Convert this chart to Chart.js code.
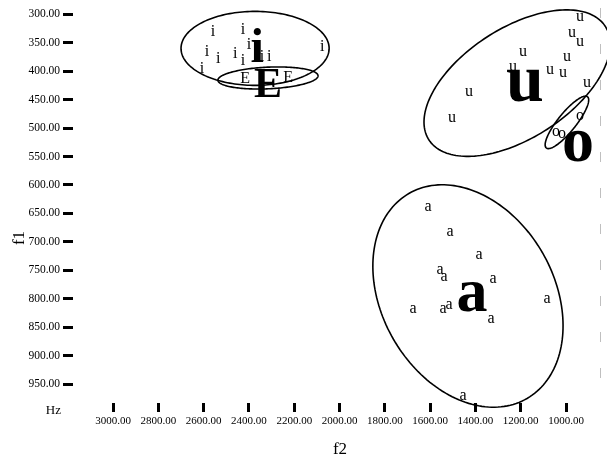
<!DOCTYPE html>
<html>
<head>
<meta charset="utf-8">
<script src="https://cdn.jsdelivr.net/npm/chart.js@4.4.1/dist/chart.umd.min.js"></script>
<style>
  html, body { margin: 0; padding: 0; background: #fff; }
  #wrap { width: 607px; height: 464px; }
</style>
</head>
<body>
<div id="wrap"><canvas id="c" width="607" height="464"></canvas></div>
<script>
// Vowel tokens: second formant (f2) and first formant (f1), in Hz
const iF2 = [2559, 2426, 2585, 2536, 2461, 2426, 2400, 2342, 2311, 2077, 2607];
const iF1 = [328, 325, 363, 376, 367, 379, 351, 372, 372, 355, 393];
const eF2 = [2417, 2227];
const eF1 = [412, 409];
const uF2 = [938, 974, 938, 1190, 996, 1234, 1071, 1013, 907, 1428, 1503];
const uF1 = [305, 333, 349, 367, 376, 393, 398, 404, 420, 437, 483];
const oF2 = [938, 1044, 1018];
const oF1 = [478, 507, 511];
const aF2 = [1609, 1512, 1384, 1556, 1539, 1322, 1675, 1543, 1517, 1331, 1084, 1455];
const aF1 = [639, 683, 723, 750, 762, 766, 817, 817, 811, 836, 801, 971];

// Vowel categories and the position of each large symbol
const vowelLabels = ['i', 'E', 'u', 'o', 'a'];
const meanF2 = [2364, 2316, 1181, 947, 1415];
const meanF1 = [354, 420, 425, 532, 796];

// Dispersion ellipses: centre plus two semi-axis vectors (Hz)
const ellCenterF2 = [2373, 2316, 1216, 996, 1433];
const ellCenterF1 = [360, 412, 421, 490, 795];
const ellAxisAF2 = [-327, -221, -389, -91, -261];
const ellAxisAF1 = [0, -4, -100, -45, 180];
const ellAxisBF2 = [0, -2, -133, -31, 329];
const ellAxisBF1 = [65, 19, 81, 10, 76];

// Axis ticks
const f2Ticks = [3000, 2800, 2600, 2400, 2200, 2000, 1800, 1600, 1400, 1200, 1000];
const f1Ticks = [300, 350, 400, 450, 500, 550, 600, 650, 700, 750, 800, 850, 900, 950];

// ---- styling ----
const SERIF = '"Liberation Serif", "DejaVu Serif", serif';
const tokenFontSize = 16;
const meanFontSizes = { i: 48, E: 42, u: 68, o: 64, a: 62 };

const toPoints = (xs, ys) => xs.map((x, k) => ({ x, y: ys[k] }));

const tokenSets = [
  { label: 'i', f2: iF2, f1: iF1 },
  { label: 'E', f2: eF2, f1: eF1 },
  { label: 'u', f2: uF2, f1: uF1 },
  { label: 'o', f2: oF2, f1: oF1 },
  { label: 'a', f2: aF2, f1: aF1 }
];

const datasets = tokenSets.map(s => ({
  label: s.label,
  data: toPoints(s.f2, s.f1),
  letters: s.f2.map(() => s.label),
  sizes: s.f2.map(() => tokenFontSize),
  bold: false,
  pointRadius: 0,
  pointHoverRadius: 0
}));
datasets.push({
  label: 'means',
  data: toPoints(meanF2, meanF1),
  letters: vowelLabels,
  sizes: vowelLabels.map(v => meanFontSizes[v]),
  bold: true,
  pointRadius: 0,
  pointHoverRadius: 0
});

// Draws each point as its vowel letter, centred on the glyph
const letterPlugin = {
  id: 'letters',
  afterDatasetsDraw(chart) {
    const ctx = chart.ctx;
    ctx.save();
    ctx.fillStyle = '#000';
    ctx.textAlign = 'center';
    ctx.textBaseline = 'alphabetic';
    chart.data.datasets.forEach((ds, di) => {
      const meta = chart.getDatasetMeta(di);
      meta.data.forEach((el, k) => {
        const txt = ds.letters[k];
        ctx.font = (ds.bold ? 'bold ' : '') + ds.sizes[k] + 'px ' + SERIF;
        const m = ctx.measureText(txt);
        const dy = (m.actualBoundingBoxAscent - m.actualBoundingBoxDescent) / 2;
        ctx.fillText(txt, el.x, el.y + dy);
      });
    });
    ctx.restore();
  }
};

// Dispersion ellipses, mapped through the chart scales
const ellipsePlugin = {
  id: 'ellipses',
  beforeDatasetsDraw(chart) {
    const { ctx, scales: { x, y } } = chart;
    ctx.save();
    ctx.strokeStyle = '#000';
    ctx.lineWidth = 1.6;
    ellCenterF2.forEach((c2, k) => {
      const c1 = ellCenterF1[k];
      const cx = x.getPixelForValue(c2), cy = y.getPixelForValue(c1);
      const ax = x.getPixelForValue(c2 + ellAxisAF2[k]) - cx;
      const ay = y.getPixelForValue(c1 + ellAxisAF1[k]) - cy;
      const bx = x.getPixelForValue(c2 + ellAxisBF2[k]) - cx;
      const by = y.getPixelForValue(c1 + ellAxisBF1[k]) - cy;
      ctx.beginPath();
      const n = 180;
      for (let s = 0; s <= n; s++) {
        const t = s / n * Math.PI * 2;
        const px = cx + ax * Math.cos(t) + bx * Math.sin(t);
        const py = cy + ay * Math.cos(t) + by * Math.sin(t);
        if (s === 0) ctx.moveTo(px, py); else ctx.lineTo(px, py);
      }
      ctx.closePath();
      ctx.stroke();
    });
    ctx.restore();
  }
};

// Axis captions: rotated f1, the Hz unit and the faint right frame
const captionPlugin = {
  id: 'captions',
  afterDraw(chart) {
    const { ctx, chartArea, scales: { x, y } } = chart;
    ctx.save();
    ctx.fillStyle = '#000';
    ctx.font = '13px ' + SERIF;
    ctx.textAlign = 'right';
    ctx.textBaseline = 'middle';
    ctx.fillText('Hz', 61, y.getPixelForValue(1000) - 2);

    ctx.translate(20, 238);
    ctx.rotate(-Math.PI / 2);
    ctx.font = '17px ' + SERIF;
    ctx.textAlign = 'center';
    ctx.fillText('f1', 0, 0);
    ctx.restore();

    ctx.save();
    ctx.strokeStyle = 'rgba(0,0,0,0.25)';
    ctx.lineWidth = 1;
    ctx.setLineDash([10, 26]);
    const rx = Math.round(x.getPixelForValue(850)) + 0.5;
    ctx.beginPath();
    ctx.moveTo(rx, chartArea.top + 8);
    ctx.lineTo(rx, chartArea.bottom);
    ctx.stroke();
    ctx.restore();
  }
};

new Chart(document.getElementById('c'), {
  type: 'scatter',
  data: { datasets },
  plugins: [ellipsePlugin, letterPlugin, captionPlugin],
  options: {
    responsive: false,
    animation: false,
    devicePixelRatio: 1,
    events: [],
    layout: { padding: 0 },
    plugins: { legend: { display: false }, tooltip: { enabled: false } },
    scales: {
      x: {
        type: 'linear',
        reverse: true,
        min: 819,
        max: 3177,
        afterBuildTicks: s => { s.ticks = f2Ticks.map(v => ({ value: v })); },
        afterFit: s => { s.height = 61; s.paddingLeft = 0; s.paddingRight = 0; },
        border: { display: false },
        grid: { drawOnChartArea: false, drawTicks: true, tickLength: 9, tickWidth: 3, tickColor: '#000' },
        ticks: {
          color: '#000', padding: 3, autoSkip: false, maxRotation: 0,
          font: { family: SERIF, size: 11 },
          callback: v => Number(v).toFixed(2)
        },
        title: {
          display: true, text: 'f2', color: '#000',
          font: { family: SERIF, size: 17 }, padding: { top: 4, bottom: 4 }
        }
      },
      y: {
        type: 'linear',
        reverse: true,
        min: 275,
        max: 983,
        afterBuildTicks: s => { s.ticks = f1Ticks.map(v => ({ value: v })); },
        afterFit: s => { s.width = 73; s.paddingTop = 0; s.paddingBottom = 0; },
        border: { display: false },
        grid: { drawOnChartArea: false, drawTicks: true, tickLength: 10, tickWidth: 3, tickColor: '#000' },
        ticks: {
          color: '#000', padding: 3, autoSkip: false,
          font: { family: SERIF, size: 11.5 },
          callback: v => Number(v).toFixed(2)
        }
      }
    }
  }
});
</script>
</body>
</html>
